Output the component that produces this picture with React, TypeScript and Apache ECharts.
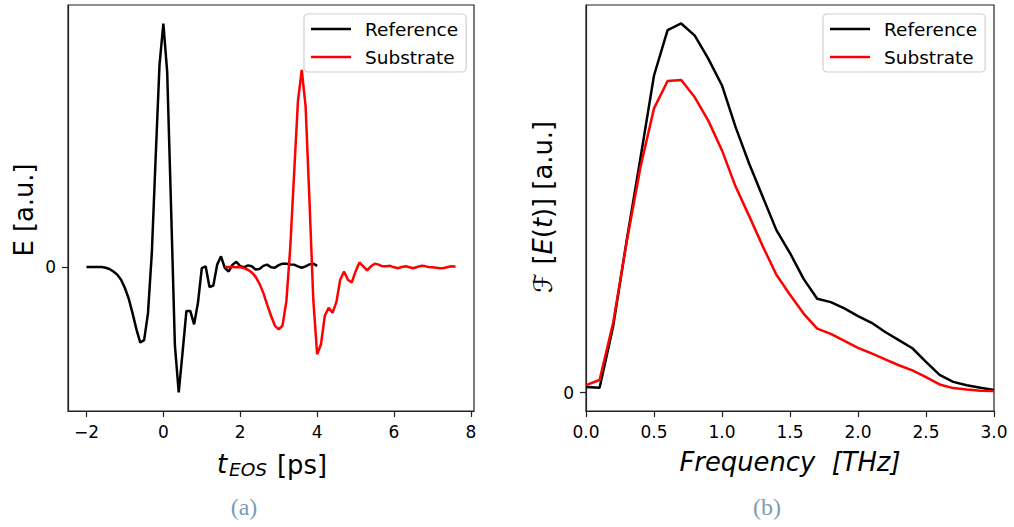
import React, { useEffect, useRef } from "react";
import * as echarts from "echarts";

// ---- Panel (a): time-domain signals ----
const refTime = [
  -2.0, -1.9, -1.8, -1.7, -1.6, -1.5, -1.4, -1.3, -1.2, -1.1,
  -1.0, -0.9, -0.8, -0.7, -0.6, -0.5, -0.4, -0.3, -0.2, -0.1,
  0.0, 0.1, 0.2, 0.3, 0.4, 0.5, 0.6, 0.7, 0.8, 0.9,
  1.0, 1.1, 1.2, 1.3, 1.4, 1.5, 1.6, 1.7, 1.8, 1.9,
  2.0, 2.1, 2.2, 2.3, 2.4, 2.5, 2.6, 2.7, 2.8, 2.9,
  3.0, 3.1, 3.2, 3.3, 3.4, 3.5, 3.6, 3.7, 3.8, 3.9, 4.0,
];
const refSignal = [
  0, 0, 0, 0, 0, -0.003, -0.008, -0.018, -0.031, -0.052,
  -0.086, -0.13, -0.19, -0.256, -0.31, -0.3, -0.19, 0.057, 0.45, 0.83,
  1.0, 0.8, 0.25, -0.32, -0.515, -0.35, -0.18, -0.18, -0.235, -0.147,
  -0.004, 0.003, -0.082, -0.076, 0.01, 0.044, -0.004, -0.018, 0.01, 0.022,
  0.003, -0.001, 0.007, 0.003, -0.01, -0.008, 0.005, 0.01, -0.001, -0.003,
  0.008, 0.014, 0.014, 0.011, 0.01, 0.003, -0.003, 0.003, 0.011, 0.014, 0.005,
];
const subTime = [
  1.6, 1.7, 1.8, 1.9, 2.0, 2.1, 2.2, 2.3, 2.4, 2.5,
  2.6, 2.7, 2.8, 2.9, 3.0, 3.1, 3.2, 3.3, 3.4, 3.5,
  3.6, 3.7, 3.8, 3.9, 4.0, 4.1, 4.2, 4.3, 4.4, 4.5,
  4.6, 4.7, 4.8, 4.9, 5.0, 5.1, 5.2, 5.3, 5.4, 5.5,
  5.6, 5.7, 5.8, 5.9, 6.0, 6.1, 6.2, 6.3, 6.4, 6.5,
  6.6, 6.7, 6.8, 6.9, 7.0, 7.1, 7.2, 7.3, 7.4, 7.5, 7.6,
];
const subSignal = [
  0, 0, 0, -0.001, -0.001, -0.004, -0.011, -0.022, -0.04, -0.068,
  -0.106, -0.154, -0.2, -0.24, -0.256, -0.24, -0.14, 0.078, 0.38, 0.68,
  0.81, 0.66, 0.275, -0.134, -0.358, -0.317, -0.2, -0.167, -0.188, -0.144,
  -0.052, -0.018, -0.052, -0.063, -0.018, 0.019, 0.003, -0.014, 0.003, 0.014,
  0.01, 0.003, 0.003, 0.005, -0.001, -0.005, 0, 0.003, -0.001, -0.005,
  0, 0.005, 0.004, 0, -0.001, -0.003, -0.005, -0.004, 0, 0.003, 0.001,
];
const timeTicks = [-2, 0, 2, 4, 6, 8];

// ---- Panel (b): spectra ----
const freq = [
  0.0, 0.1, 0.2, 0.3, 0.4, 0.5, 0.6, 0.7, 0.8, 0.9,
  1.0, 1.1, 1.2, 1.3, 1.4, 1.5, 1.6, 1.7, 1.8, 1.9,
  2.0, 2.1, 2.2, 2.3, 2.4, 2.5, 2.6, 2.7, 2.8, 2.9, 3.0,
];
const refSpectrum = [
  0.015, 0.013, 0.18, 0.414, 0.634, 0.859, 0.982, 1.0, 0.967, 0.904,
  0.832, 0.719, 0.62, 0.53, 0.44, 0.378, 0.308, 0.254, 0.245, 0.228,
  0.207, 0.189, 0.164, 0.142, 0.12, 0.083, 0.048, 0.029, 0.02, 0.013, 0.007,
];
const subSpectrum = [
  0.02, 0.034, 0.19, 0.41, 0.61, 0.77, 0.844, 0.847, 0.8, 0.736,
  0.656, 0.558, 0.478, 0.396, 0.319, 0.265, 0.214, 0.173, 0.159, 0.14,
  0.121, 0.106, 0.09, 0.074, 0.06, 0.042, 0.022, 0.012, 0.008, 0.005, 0.004,
];
const zeroTick = [0];

const FONT = "DejaVu Sans";
const LABEL_SIZE = 25.8;

function pairs(xs: number[], ys: number[]) {
  return xs.map((x, i) => [x, ys[i]]);
}

export default function App() {
  const ref = useRef<HTMLDivElement>(null);
  useEffect(() => {
    if (!ref.current) return;
    const chart = echarts.init(ref.current, undefined, { renderer: "svg" });
    const axisCommon = {
      axisLine: { show: true, onZero: false, lineStyle: { color: "#222", width: 1.2 } },
      axisTick: { show: true, length: 6, lineStyle: { color: "#222", width: 1.2 } },
      splitLine: { show: false },
      axisLabel: { color: "#000", fontFamily: FONT, fontSize: 17, margin: 12 },
    };
    const fmtMinus = (v: number) => (v < 0 ? "\u2212" + Math.abs(v) : String(v));
    const legendCommon = {
      orient: "vertical",
      backgroundColor: "#fff",
      borderColor: "#d0d0d0",
      borderWidth: 1.2,
      borderRadius: 4,
      padding: [5, 8, 5, 7],
      itemWidth: 40,
      itemHeight: 2.6,
      itemGap: 8,
      icon: "rect",
      selectedMode: false,
      textStyle: { fontFamily: FONT, fontSize: 18.5, color: "#000", lineHeight: 20, padding: [0, 0, 0, 9] },
      data: ["Reference", "Substrate"],
    };
    const lineSeries = (name: string, data: number[][], color: string, idx: number) => ({
      name,
      type: "line",
      xAxisIndex: idx,
      yAxisIndex: idx,
      data,
      symbol: "none",
      showSymbol: false,
      lineStyle: { color, width: 2.5 },
      itemStyle: { color },
      z: name === "Reference" ? 2 : 3,
    });
    chart.setOption({
      animation: false,
      backgroundColor: "#fff",
      grid: [
        { left: 68, top: 5, width: 406, height: 406, show: true, borderColor: "#222", borderWidth: 1.2, backgroundColor: "transparent" },
        { left: 586, top: 5, width: 408, height: 406, show: true, borderColor: "#222", borderWidth: 1.2, backgroundColor: "transparent" },
      ],
      xAxis: [
        {
          ...axisCommon,
          type: "value",
          gridIndex: 0,
          min: -2.48,
          max: 8.08,
          axisTick: { ...axisCommon.axisTick, customValues: timeTicks },
          axisLabel: { ...axisCommon.axisLabel, customValues: timeTicks, formatter: fmtMinus },
        },
        {
          ...axisCommon,
          type: "value",
          gridIndex: 1,
          min: 0,
          max: 3,
          interval: 0.5,
          axisLabel: { ...axisCommon.axisLabel, formatter: (v: number) => v.toFixed(1) },
        },
      ],
      yAxis: [
        {
          ...axisCommon,
          type: "value",
          gridIndex: 0,
          min: -0.591,
          max: 1.076,
          axisTick: { ...axisCommon.axisTick, customValues: zeroTick },
          axisLabel: { ...axisCommon.axisLabel, customValues: zeroTick, formatter: fmtMinus },
        },
        {
          ...axisCommon,
          type: "value",
          gridIndex: 1,
          min: -0.05,
          max: 1.05,
          axisTick: { ...axisCommon.axisTick, customValues: zeroTick },
          axisLabel: { ...axisCommon.axisLabel, customValues: zeroTick, formatter: fmtMinus },
        },
      ],
      legend: [
        { ...legendCommon, left: 304, top: 14 },
        { ...legendCommon, left: 823, top: 14 },
      ],
      series: [
        lineSeries("Reference", pairs(refTime, refSignal), "#000000", 0),
        lineSeries("Substrate", pairs(subTime, subSignal), "#ff0000", 0),
        lineSeries("Reference", pairs(freq, refSpectrum), "#000000", 1),
        lineSeries("Substrate", pairs(freq, subSpectrum), "#ff0000", 1),
      ],
      graphic: [
        // y label (a)
        {
          type: "text",
          x: 24,
          y: 210,
          rotation: Math.PI / 2,
          style: { text: "E [a.u.]", fontFamily: FONT, fontSize: LABEL_SIZE, fill: "#000", align: "center", verticalAlign: "middle" },
        },
        // y label (b)
        {
          type: "text",
          x: 543,
          y: 207,
          rotation: Math.PI / 2,
          style: {
            text: "{f|\u2131} {n|[}{i|E}{n|(}{i|t}{n|)] [a.u.]}",
            fontFamily: FONT,
            fontSize: LABEL_SIZE,
            fill: "#000",
            align: "center",
            verticalAlign: "middle",
            rich: {
              f: { fontFamily: FONT, fontStyle: "italic", fontSize: LABEL_SIZE, fill: "#000" },
              n: { fontFamily: FONT, fontSize: LABEL_SIZE, fill: "#000" },
              i: { fontFamily: FONT, fontStyle: "italic", fontSize: LABEL_SIZE, fill: "#000" },
            },
          },
        },
        // x label (a): t_EOS [ps]
        {
          type: "text",
          x: 217,
          y: 464,
          style: { text: "t", fontFamily: FONT, fontStyle: "italic", fontSize: LABEL_SIZE, fill: "#000", align: "left", verticalAlign: "middle" },
        },
        {
          type: "text",
          x: 229,
          y: 469,
          style: { text: "EOS", fontFamily: FONT, fontStyle: "italic", fontSize: 18.5, fill: "#000", align: "left", verticalAlign: "middle" },
        },
        {
          type: "text",
          x: 277,
          y: 465,
          style: { text: "[ps]", fontFamily: FONT, fontSize: LABEL_SIZE, fill: "#000", align: "left", verticalAlign: "middle" },
        },
        // x label (b)
        {
          type: "text",
          x: 790,
          y: 462,
          style: { text: "Frequency  [THz]", fontFamily: FONT, fontStyle: "italic", fontSize: LABEL_SIZE, fill: "#000", align: "center", verticalAlign: "middle" },
        },
        // sub-captions
        {
          type: "text",
          x: 244,
          y: 507,
          style: { text: "(a)", fontFamily: "Liberation Serif", fontSize: 24, fill: "#7b9bb7", align: "center", verticalAlign: "middle" },
        },
        {
          type: "text",
          x: 767,
          y: 507,
          style: { text: "(b)", fontFamily: "Liberation Serif", fontSize: 24, fill: "#7b9bb7", align: "center", verticalAlign: "middle" },
        },
      ],
    });
    return () => chart.dispose();
  }, []);
  return (
    <div
      ref={ref}
      style={{ position: "fixed", left: 0, top: 0, width: 1014, height: 527, background: "#fff" }}
    />
  );
}
